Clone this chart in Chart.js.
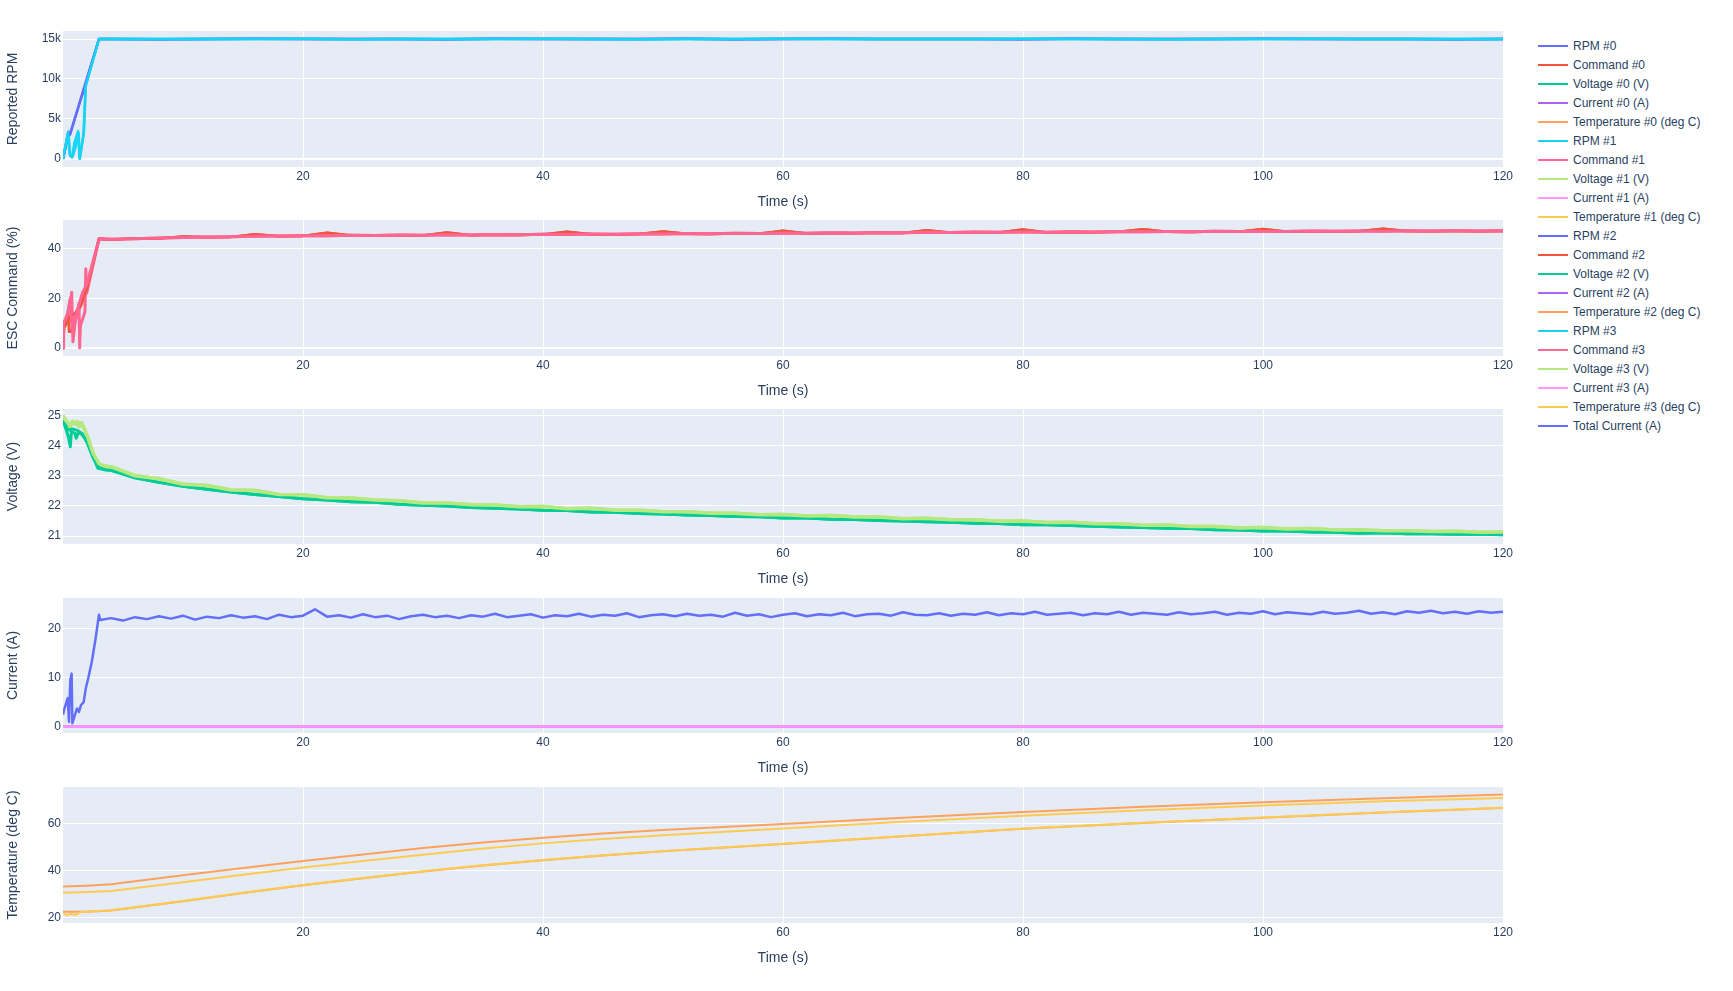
<!DOCTYPE html>
<html>
<head>
<meta charset="utf-8">
<script src="https://cdn.jsdelivr.net/npm/chart.js"></script>
<style>
  body{margin:0;background:#fff;width:1733px;height:991px;overflow:hidden;position:relative;font-family:"Liberation Sans",Arial,sans-serif;}
  .panel{position:absolute;left:0;}
  #legend{position:absolute;left:1538px;top:36px;}
  .lg-row{height:19.03px;display:flex;align-items:center;font-size:12px;color:#2a3f5f;white-space:nowrap;}
  .lg-line{width:30px;height:2px;margin-right:5px;}
</style>
</head>
<body>
<div id="legend"></div>
<script>
// sample times (s) of the logged steady part
function range(a, b, step){ var out = []; for (var t = a; t <= b; t += step) out.push(t); return out; }
const secs1 = range(4, 120, 1);
const secs2 = range(4, 120, 2);
const secs4 = range(4, 120, 4);

// legend names, in trace order
const legendNames = [
  'RPM #0','Command #0','Voltage #0 (V)','Current #0 (A)','Temperature #0 (deg C)',
  'RPM #1','Command #1','Voltage #1 (V)','Current #1 (A)','Temperature #1 (deg C)',
  'RPM #2','Command #2','Voltage #2 (V)','Current #2 (A)','Temperature #2 (deg C)',
  'RPM #3','Command #3','Voltage #3 (V)','Current #3 (A)','Temperature #3 (deg C)',
  'Total Current (A)'
];

// ---- RPM ----
const rpm0T = [0, 0.3, 0.45, 0.56, 1.89, 3.0];
const rpm0V = [0, 2000, 3400, 3000, 9460, 15000];
const rpm1T = [0, 0.45, 0.6, 0.8, 1.05, 1.3, 1.4, 1.75, 1.9, 3.0];
const rpm1V = [0, 3400, 400, 300, 1500, 3300, 0, 3400, 9300, 15000];
const rpm2T = [0, 0.4, 0.6, 1.9, 3.0];
const rpm2V = [0, 3000, 3100, 9600, 15000];
const rpm3T = [0, 0.4, 0.55, 0.75, 0.95, 1.25, 1.38, 1.7, 1.88, 3.0];
const rpm3V = [0, 3200, 600, 200, 2000, 3500, 100, 3000, 9000, 15000];
const rpmHoldA = [15000,14980,15010,15020,14990,15000,15010,14970,15020,15000,14990,15010,15030,14980,15000,15020,14990,15010,15000,14980,15020,15010,14990,15000,15030,14990,15010,15000,14980,15010];
const rpmHoldB = [15010,15000,14990,15010,15020,14980,15000,15010,14990,15020,15000,14980,15010,15000,15020,14990,15010,15000,14990,15020,15000,15010,14980,15010,15000,15020,14990,15000,15010,15000];

// ---- ESC command (%) ----
const cmd0T = [0, 0.05, 0.44, 0.5, 0.67, 1.0, 1.5, 1.9, 3.0];
const cmd0V = [0, 9.3, 14.6, 6.6, 6.6, 12.5, 17, 22, 44];
const cmd1T = [0, 0.03, 0.3, 0.68, 0.72, 0.83, 1.0, 1.33, 1.39, 1.45, 1.83, 1.9, 1.97, 3.0];
const cmd1V = [0, 9, 12, 21, 22.5, 2.5, 10, 18, 0, 9, 14.6, 32, 22, 44];
const cmd2T = [0, 0.1, 0.5, 1.0, 1.5, 2.0, 3.0];
const cmd2V = [0, 8, 12, 14, 18, 24, 44];
const cmd3T = [0, 0.05, 0.4, 0.6, 0.75, 1.0, 1.25, 1.6, 2.0, 3.0];
const cmd3V = [0, 10, 14, 20, 8, 12, 16, 22, 26, 44];
const cmdHoldRed = [43.6,44.2,44.1,45.0,44.6,44.8,45.9,45.1,45.2,46.5,
  45.4,45.3,45.5,45.4,46.6,45.5,45.7,45.6,45.8,46.9,
  45.9,45.8,46.0,47.0,46.1,46.0,46.2,46.1,47.3,46.2,
  46.4,46.3,46.5,46.4,47.5,46.5,46.6,46.6,47.8,46.6,
  46.8,46.7,46.9,47.9,46.9,46.8,47.0,46.9,48.0,46.9,
  47.1,47.0,47.1,48.1,47.2,47.1,47.2,47.1,47.2];
const cmdHoldPink = [43.8,44.0,44.3,44.5,44.8,44.9,45.1,45.2,45.4,45.3,
  45.5,45.4,45.6,45.5,45.7,45.6,45.8,45.7,45.9,45.8,
  46.0,45.9,46.1,46.0,46.2,46.1,46.3,46.2,46.4,46.3,
  46.5,46.4,46.6,46.5,46.7,46.6,46.8,46.7,46.8,46.7,
  46.9,46.8,47.0,46.9,47.0,46.9,47.1,47.0,47.1,47.0,
  47.2,47.1,47.2,47.1,47.3,47.2,47.3,47.2,47.3];

// ---- voltage (V) ----
const volt0T = [0, 0.44, 0.61, 0.7, 1.0, 1.1, 1.3, 1.6, 1.83, 2.1, 2.44, 2.9, 3.5];
const volt0V = [24.85, 24.3, 23.96, 24.46, 24.4, 24.24, 24.45, 24.35, 24.24, 24.1, 23.7, 23.25, 23.2];
const volt1T = [0, 0.44, 0.6, 0.78, 1.0, 1.2, 1.33, 1.55, 1.8, 2.1, 2.44, 2.9, 3.5];
const volt1V = [25.0, 24.68, 24.6, 24.78, 24.72, 24.8, 24.62, 24.75, 24.55, 24.24, 23.8, 23.41, 23.3];
const volt2T = [0, 0.4, 0.8, 1.2, 1.6, 2.0, 2.5, 3.0, 3.5];
const volt2V = [24.9, 24.5, 24.55, 24.5, 24.4, 24.1, 23.6, 23.28, 23.2];
const volt3T = [0, 0.3, 0.5, 0.8, 1.1, 1.4, 1.7, 2.0, 2.5, 3.0, 3.5];
const volt3V = [24.95, 24.8, 24.7, 24.8, 24.7, 24.75, 24.6, 24.35, 23.75, 23.4, 23.32];
const voltHoldDark = [23.18,22.93,22.78,22.65,22.55,22.46,22.38,22.31,22.24,22.20,
  22.14,22.12,22.06,22.02,22.00,21.95,21.92,21.90,21.86,21.85,
  21.80,21.79,21.75,21.73,21.70,21.68,21.65,21.64,21.60,21.60,
  21.56,21.55,21.52,21.50,21.48,21.46,21.43,21.42,21.38,21.38,
  21.35,21.33,21.30,21.29,21.26,21.25,21.21,21.20,21.17,21.17,
  21.14,21.13,21.10,21.11,21.08,21.08,21.06,21.07,21.05];
const voltHoldLight = [23.30,23.00,22.90,22.72,22.68,22.53,22.51,22.38,22.37,22.27,
  22.26,22.20,22.17,22.10,22.10,22.04,22.03,21.97,21.98,21.91,
  21.92,21.86,21.86,21.81,21.81,21.76,21.76,21.71,21.72,21.67,
  21.68,21.63,21.63,21.58,21.59,21.54,21.54,21.49,21.50,21.45,
  21.46,21.41,21.41,21.36,21.37,21.32,21.32,21.27,21.29,21.24,
  21.25,21.20,21.21,21.18,21.18,21.15,21.16,21.13,21.14];

// ---- current (A) ----
const escCurT = [0, 120];
const escCurV = [0, 0];
const totalT = [0, 0.1, 0.39, 0.5, 0.61, 0.72, 0.78, 1.0, 1.17, 1.33, 1.5, 1.72, 1.9, 2.1, 2.4, 2.72, 3.0, 3.1];
const totalV = [2.4, 3.5, 5.8, 1.0, 9.5, 10.8, 0.7, 2.4, 3.7, 3.0, 4.4, 5.0, 7.8, 9.8, 13.2, 18.0, 22.8, 21.7];
const totalHold = [22.1,21.6,22.3,21.9,22.5,22.0,22.6,21.8,22.4,22.1,
  22.7,22.2,22.5,21.9,22.8,22.3,22.6,23.9,22.4,22.7,
  22.2,22.9,22.3,22.6,21.9,22.5,22.8,22.3,22.6,22.1,
  22.7,22.4,23.0,22.3,22.6,22.9,22.2,22.7,22.5,23.0,
  22.4,22.8,22.6,23.1,22.3,22.7,22.9,22.5,23.0,22.6,
  22.8,22.4,23.2,22.6,22.9,22.3,22.8,23.1,22.5,22.9,
  22.7,23.2,22.5,22.9,23.0,22.6,23.3,22.8,22.7,23.1,
  22.6,23.0,22.8,23.3,22.7,23.1,22.9,23.4,22.8,23.0,
  23.2,22.7,23.1,22.9,23.4,22.8,23.2,23.0,22.8,23.3,
  22.9,23.1,23.4,22.8,23.2,23.0,23.5,22.9,23.3,23.1,
  22.9,23.4,23.0,23.2,23.6,23.0,23.3,22.9,23.5,23.2,
  23.6,23.1,23.4,23.0,23.5,23.2,23.4];

// ---- temperature (deg C) ----
const tempT = [0, 2, 4, 10, 15, 20, 25, 30, 35, 40, 45, 50, 60, 70, 80, 90, 100, 110, 120];
const temp0 = [33.2, 33.6, 34.2, 38.0, 41.1, 44.1, 46.9, 49.6, 52.0, 54.0, 55.8, 57.3, 59.9, 62.5, 65.0, 67.2, 69.1, 70.8, 72.4];
const temp1 = [30.6, 30.9, 31.3, 35.0, 38.2, 41.3, 44.1, 46.8, 49.4, 51.6, 53.5, 55.1, 57.9, 60.8, 63.4, 65.7, 67.7, 69.5, 70.9];
const temp2 = [22.5, 22.5, 23.0, 27.0, 30.5, 33.8, 36.8, 39.6, 42.2, 44.4, 46.4, 48.2, 51.3, 54.6, 57.8, 60.3, 62.5, 64.7, 66.7];
const temp3T = [0, 0.3, 0.6, 1.0, 1.5, 4, 10, 15, 20, 25, 30, 35, 40, 45, 50, 60, 70, 80, 90, 100, 110, 120];
const temp3 = [22.0, 21.0, 21.6, 21.1, 22.4, 23.1, 27.1, 30.6, 33.9, 36.9, 39.7, 42.3, 44.5, 46.5, 48.3, 51.4, 54.6, 57.9, 60.4, 62.6, 64.8, 66.8];

// axis ticks
const rpmTicks = [0, 5000, 10000, 15000];
const rpmTickLabels = ['0', '5k', '10k', '15k'];
const cmdTicks = [0, 20, 40];
const voltTicks = [21, 22, 23, 24, 25];
const curTicks = [0, 10, 20];
const tempTicks = [20, 40, 60];

// plotly default colour cycle
const palette = ['#636EFA','#EF553B','#00CC96','#AB63FA','#FFA15A','#19D3F3','#FF6692','#B6E880','#FF97FF','#FECB52'];
function colorOf(i){ return palette[i % 10]; }

var FONT = '"Liberation Sans", Arial, sans-serif';
var INK = '#2a3f5f';

var bgPlugin = {
  id: 'plotBg',
  beforeDraw: function(chart){
    var a = chart.chartArea, ctx = chart.ctx;
    ctx.save();
    ctx.fillStyle = '#E5ECF6';
    ctx.fillRect(a.left, a.top, a.right - a.left, a.bottom - a.top);
    ctx.restore();
  }
};

function line(idx, times, values, width){
  return {
    label: legendNames[idx],
    borderColor: colorOf(idx),
    backgroundColor: colorOf(idx),
    data: times.map(function(x, i){ return {x: x, y: values[i]}; }),
    borderWidth: width || 2, pointRadius: 0, tension: 0, fill: false,
    borderJoinStyle: 'round'
  };
}

var PAD = 4;
function panel(top, plotH, yTitle, yMin, yMax, yTicks, yLabels, datasets){
  var c = document.createElement('canvas');
  c.width = 1520; c.height = PAD + plotH + 46;
  c.className = 'panel';
  c.style.top = (top - PAD) + 'px';
  document.body.appendChild(c);
  new Chart(c, {
    type: 'line',
    // later traces are painted on top, like plotly
    data: { datasets: datasets.slice().reverse() },
    options: {
      responsive: false,
      animation: false,
      layout: { padding: { top: PAD, right: 17, left: 0, bottom: 0 } },
      plugins: { legend: { display: false }, tooltip: { enabled: false } },
      scales: {
        x: {
          type: 'linear', min: 0, max: 120,
          ticks: { stepSize: 20, color: INK, font: { family: FONT, size: 12 }, padding: 2, maxRotation: 0, autoSkip: false,
                   callback: function(v){ return v === 0 ? '' : v; } },
          grid: { color: function(ctx){ return ctx.tick && ctx.tick.value === 0 ? 'rgba(0,0,0,0)' : '#ffffff'; }, drawTicks: false },
          border: { display: false },
          title: { display: true, text: 'Time (s)', color: INK, font: { family: FONT, size: 14 }, padding: { top: 0, bottom: 2 } },
          afterFit: function(s){ s.height = 46; s.paddingLeft = 0; s.paddingRight = 0; }
        },
        y: {
          min: yMin, max: yMax,
          afterBuildTicks: function(s){ s.ticks = yTicks.map(function(v){ return { value: v }; }); },
          ticks: { color: INK, font: { family: FONT, size: 12 }, padding: 2,
                   callback: function(v){ var k = yTicks.indexOf(v); return yLabels ? yLabels[k] : String(v); } },
          grid: { color: '#ffffff', lineWidth: function(ctx){ return ctx.tick && ctx.tick.value === 0 ? 2 : 1; }, drawTicks: false },
          border: { display: false },
          title: { display: true, text: yTitle, color: INK, font: { family: FONT, size: 14 }, padding: { top: 5, bottom: 0 } },
          afterFit: function(s){ s.width = 63; s.paddingTop = 0; s.paddingBottom = 0; }
        }
      }
    },
    plugins: [bgPlugin]
  });
}

panel(31, 136, 'Reported RPM', -1000, 16000, rpmTicks, rpmTickLabels, [
  line(0, rpm0T.concat(secs4), rpm0V.concat(rpmHoldA), 2.5),
  line(5, rpm1T.concat(secs4), rpm1V.concat(rpmHoldB), 2.5),
  line(10, rpm2T.concat(secs4), rpm2V.concat(rpmHoldA), 2.5),
  line(15, rpm3T.concat(secs4), rpm3V.concat(rpmHoldB), 2.5)
]);

panel(220, 136, 'ESC Command (%)', -3.2, 51.6, cmdTicks, null, [
  line(1, cmd0T.concat(secs2), cmd0V.concat(cmdHoldRed), 2.5),
  line(6, cmd1T.concat(secs2), cmd1V.concat(cmdHoldPink), 3),
  line(11, cmd2T.concat(secs2), cmd2V.concat(cmdHoldRed), 2.5),
  line(16, cmd3T.concat(secs2), cmd3V.concat(cmdHoldPink), 3)
]);

panel(409, 135, 'Voltage (V)', 20.74, 25.21, voltTicks, null, [
  line(2, volt0T.concat(secs2), volt0V.concat(voltHoldDark), 3),
  line(7, volt1T.concat(secs2), volt1V.concat(voltHoldLight), 3.5),
  line(12, volt2T.concat(secs2), volt2V.concat(voltHoldDark), 3),
  line(17, volt3T.concat(secs2), volt3V.concat(voltHoldLight), 3.5)
]);

panel(598, 135, 'Current (A)', -1.3, 26.2, curTicks, null, [
  line(3, escCurT, escCurV),
  line(8, escCurT, escCurV),
  line(13, escCurT, escCurV),
  line(18, escCurT, escCurV, 2.5),
  line(20, totalT.concat(secs1), totalV.concat(totalHold), 2.5)
]);

panel(787, 136, 'Temperature (deg C)', 17.7, 75.6, tempTicks, null, [
  line(4, tempT, temp0),
  line(9, tempT, temp1),
  line(14, tempT, temp2),
  line(19, temp3T, temp3)
]);

// legend (right side)
var lg = document.getElementById('legend');
legendNames.forEach(function(name, i){
  var row = document.createElement('div');
  row.className = 'lg-row';
  row.innerHTML = '<span class="lg-line" style="background:' + colorOf(i) + '"></span><span>' + name + '</span>';
  lg.appendChild(row);
});
</script>
</body>
</html>
